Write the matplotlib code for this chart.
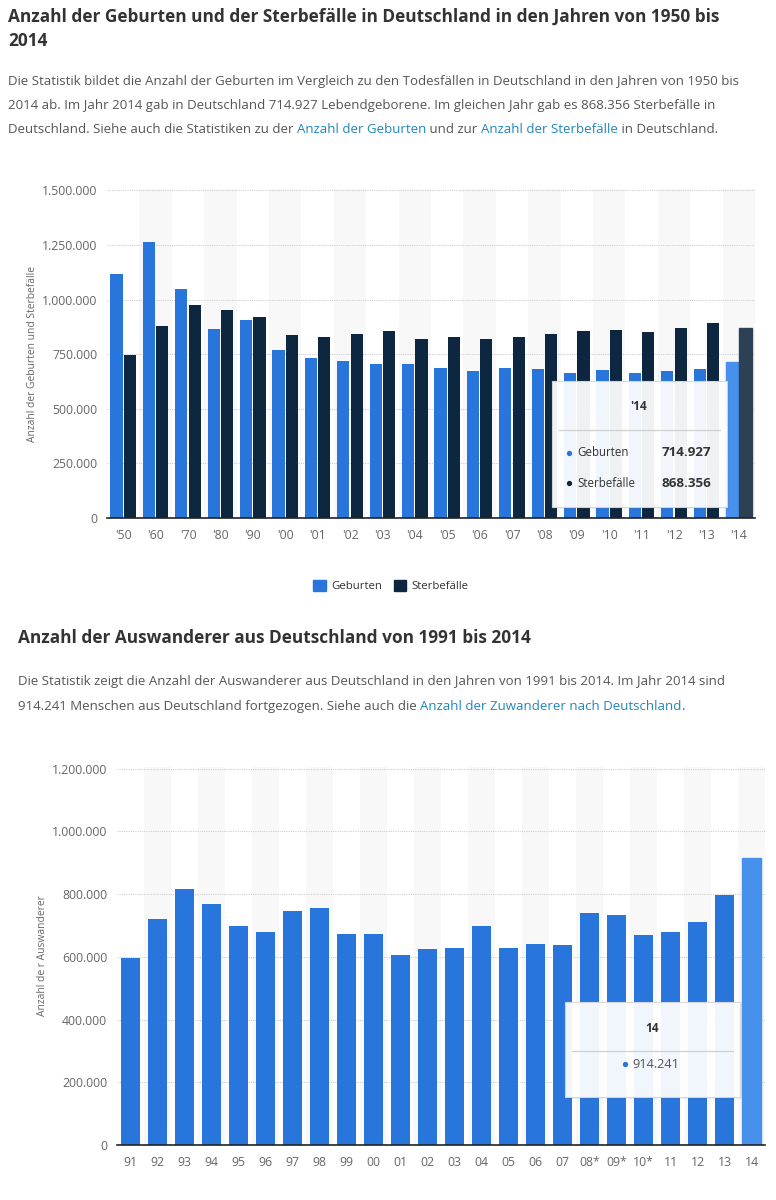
import matplotlib
matplotlib.use("Agg")
import matplotlib.pyplot as plt
from matplotlib.patches import Rectangle, FancyBboxPatch
from matplotlib.lines import Line2D
from matplotlib.text import Annotation

plt.rcParams['font.family'] = ['Open Sans', 'DejaVu Sans']

# Geburten / Sterbefaelle
jahre_oben = ["'50", "'60", "'70", "'80", "'90", "'00", "'01", "'02", "'03", "'04",
              "'05", "'06", "'07", "'08", "'09", "'10", "'11", "'12", "'13", "'14"]
geburten = [1116701, 1261614, 1047737, 865789, 905675, 766999, 734475, 719250, 706721, 705622,
            685795, 672724, 684862, 682514, 665126, 677947, 662685, 673544, 682069, 714927]
sterbefaelle = [748329, 876721, 975664, 952371, 921445, 838797, 828541, 841686, 853946, 818271,
                830227, 821627, 827155, 844439, 854544, 858768, 852328, 869582, 893825, 868356]
yticks_oben = [0, 250000, 500000, 750000, 1000000, 1250000, 1500000]

# Auswanderer
jahre_unten = ["91", "92", "93", "94", "95", "96", "97", "98", "99", "00", "01", "02",
               "03", "04", "05", "06", "07", "08*", "09*", "10*", "11", "12", "13", "14"]
auswanderer = [596455, 720127, 815312, 767555, 698113, 677494, 746969, 755358, 672048, 674038,
               606494, 623255, 626330, 697632, 628399, 639064, 636854, 737889, 733796, 670605,
               678969, 711991, 797886, 914241]
yticks_unten = [0, 200000, 400000, 600000, 800000, 1000000, 1200000]

W, H = 776, 1200
BLAU = '#2876dc'
DUNKEL = '#0e2740'
BLAU_HL = '#4790eb'
DUNKEL_HL = '#2c4056'
TITEL = '#333333'
GRAU = '#555555'
LINK = '#1f86bd'
TICK = '#666666'
TXT = 9.5

fig = plt.figure(figsize=(W / 100, H / 100), dpi=100)


def fx(x):
    return x / W


def fy(y):
    return 1 - y / H


def achse(l, t, r, b):
    return fig.add_axes([l / W, 1 - b / H, (r - l) / W, (b - t) / H])


def punkte(v):
    return f"{v:,.0f}".replace(',', '.')


def zeile(x, y, teile, size):
    # text in mehreren farben hintereinander (links)
    t = fig.text(fx(x), fy(y), teile[0][0], color=teile[0][1], fontsize=size, va='bottom')
    for s, c in teile[1:]:
        t = fig.add_artist(Annotation(s, xy=(1, 0), xycoords=t, color=c, fontsize=size, va='bottom'))
    return t


def punkt(x, y, farbe):
    fig.add_artist(Line2D([fx(x)], [fy(y)], marker='o', markersize=2.8, color=farbe, lw=0, zorder=7))


def stil(ax, yticks, labels, ylabel):
    n = len(labels)
    for i in range(1, n, 2):
        ax.axvspan(i - 0.5, i + 0.5, color='#f8f8f8', zorder=0, lw=0)
    ax.set_xlim(-0.5, n - 0.5)
    ax.set_ylim(0, yticks[-1] * 1.004)
    ax.set_yticks(yticks)
    ax.set_yticklabels([punkte(v) for v in yticks])
    ax.set_xticks(range(n))
    ax.set_xticklabels(labels)
    ax.tick_params(length=0, colors=TICK, labelsize=8.8, pad=8)
    ax.tick_params(axis='y', pad=7)
    for g in yticks[1:]:
        ax.axhline(g, color='#cfcfcf', lw=0.8, ls=(0, (1, 1)), zorder=1)
    for s in ['top', 'right', 'left']:
        ax.spines[s].set_visible(False)
    ax.spines['bottom'].set_color('#222222')
    ax.spines['bottom'].set_linewidth(1.2)
    ax.spines['bottom'].set_zorder(4)
    ax.set_ylabel(ylabel, fontsize=7.4, color=TICK)


def tooltip(l, t, r, b):
    fig.add_artist(Rectangle((fx(l + 2), fy(b + 2)), (r - l) / W, (b - t) / H,
                             transform=fig.transFigure, facecolor='black', alpha=0.06, lw=0, zorder=5))
    fig.add_artist(Rectangle((fx(l), fy(b)), (r - l) / W, (b - t) / H,
                             transform=fig.transFigure, facecolor='white', alpha=0.94,
                             edgecolor='#d8d8d8', lw=0.8, zorder=6))


# --- Texte oben ---
fig.text(fx(8), fy(17), "Anzahl der Geburten und der Sterbefälle in Deutschland in den Jahren von 1950 bis",
         fontsize=12.4, fontweight='bold', color=TITEL, va='center')
fig.text(fx(8), fy(41), "2014", fontsize=12.4, fontweight='bold', color=TITEL, va='center')

fig.text(fx(8), fy(82), "Die Statistik bildet die Anzahl der Geburten im Vergleich zu den Todesfällen in Deutschland in den Jahren von 1950 bis",
         fontsize=TXT, color=GRAU, va='center')
fig.text(fx(8), fy(105), "2014 ab. Im Jahr 2014 gab in Deutschland 714.927 Lebendgeborene. Im gleichen Jahr gab es 868.356 Sterbefälle in",
         fontsize=TXT, color=GRAU, va='center')
zeile(8, 136, [("Deutschland. Siehe auch die Statistiken zu der ", GRAU), ("Anzahl der Geburten", LINK),
               (" und zur ", GRAU), ("Anzahl der Sterbefälle", LINK), (" in Deutschland.", GRAU)], TXT)

# --- Diagramm oben ---
ax1 = achse(107, 189, 755, 518)
x = list(range(len(jahre_oben)))
f1 = ax1.bar([i - 0.205 for i in x], geburten, width=0.375, color=BLAU, zorder=2)
f2 = ax1.bar([i + 0.205 for i in x], sterbefaelle, width=0.375, color=DUNKEL, zorder=2)
f1[-1].set_color(BLAU_HL)
f2[-1].set_color(DUNKEL_HL)
stil(ax1, yticks_oben, jahre_oben, "Anzahl der Geburten und Sterbefälle")
ax1.yaxis.labelpad = 2.5

tooltip(552, 381, 727, 507)
fig.text(fx(639), fy(407), "'14", fontsize=8.5, fontweight='bold', color='#333333', ha='center', va='center', zorder=7)
fig.add_artist(Line2D([fx(559), fx(720)], [fy(430), fy(430)], color='#d0d0d0', lw=0.9, zorder=7))
punkt(569, 453, BLAU)
fig.text(fx(577), fy(453), "Geburten", fontsize=8.3, color='#333333', va='center', zorder=7)
fig.text(fx(711), fy(453), punkte(geburten[-1]), fontsize=9.6, fontweight='bold', color='#333333',
         ha='right', va='center', zorder=7)
punkt(569, 483, DUNKEL)
fig.text(fx(577), fy(483), "Sterbefälle", fontsize=8.3, color='#333333', va='center', zorder=7)
fig.text(fx(711), fy(483), punkte(sterbefaelle[-1]), fontsize=9.6, fontweight='bold', color='#333333',
         ha='right', va='center', zorder=7)

# Legende
fig.legend([FancyBboxPatch((0, 0), 1, 1, boxstyle='round,pad=0,rounding_size=0.2', color=BLAU),
            FancyBboxPatch((0, 0), 1, 1, boxstyle='round,pad=0,rounding_size=0.2', color=DUNKEL)],
           ["Geburten", "Sterbefälle"], loc='center', bbox_to_anchor=(fx(391), fy(586)),
           ncol=2, frameon=False, fontsize=8.2, handlelength=1.1, handleheight=1.1,
           handletextpad=0.5, columnspacing=1.0, labelcolor='#333333')

# --- Texte unten ---
fig.text(fx(18), fy(638), "Anzahl der Auswanderer aus Deutschland von 1991 bis 2014",
         fontsize=12.4, fontweight='bold', color=TITEL, va='center')
fig.text(fx(18), fy(682), "Die Statistik zeigt die Anzahl der Auswanderer aus Deutschland in den Jahren von 1991 bis 2014. Im Jahr 2014 sind",
         fontsize=TXT, color=GRAU, va='center')
zeile(18, 713, [("914.241 Menschen aus Deutschland fortgezogen. Siehe auch die ", GRAU),
                ("Anzahl der Zuwanderer nach Deutschland", LINK), (".", GRAU)], TXT)

# --- Diagramm unten ---
ax2 = achse(117, 767, 765, 1145)
b = ax2.bar(range(len(jahre_unten)), auswanderer, width=0.69, color=BLAU, zorder=2)
b[-1].set_color(BLAU_HL)
stil(ax2, yticks_unten, jahre_unten, "Anzahl de r Auswanderer")
ax2.yaxis.labelpad = 2.5

tooltip(565, 1002, 740, 1097)
fig.text(fx(652), fy(1028), "14", fontsize=8.5, fontweight='bold', color='#333333', ha='center', va='center', zorder=7)
fig.add_artist(Line2D([fx(572), fx(733)], [fy(1051), fy(1051)], color='#d0d0d0', lw=0.9, zorder=7))
punkt(625, 1064, BLAU)
fig.text(fx(632), fy(1064), punkte(auswanderer[-1]), fontsize=9.2, color='#555555', va='center', zorder=7)

fig.savefig("out.png", dpi=100)
